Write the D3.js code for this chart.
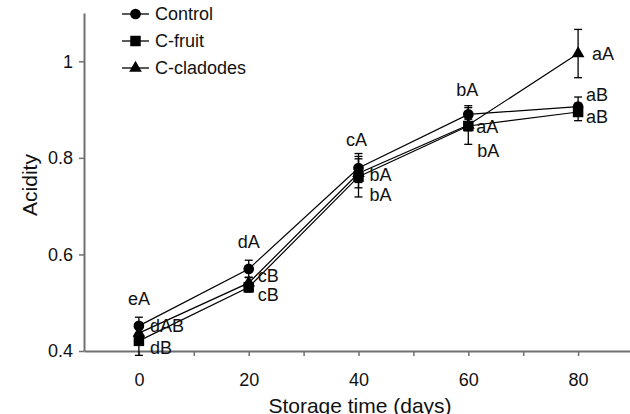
<!DOCTYPE html>
<html>
<head>
<meta charset="utf-8">
<script src="https://cdn.jsdelivr.net/npm/d3@7"></script>
<style>
	body { margin: 0; background: #fff; }
	svg text { font-family: "Liberation Sans", Arial, sans-serif; fill: #111; }
</style>
</head>
<body>
<svg id="chart" width="630" height="414"></svg>
<script>
// storage time (days)
var days = [0, 20, 40, 60, 80];
var xTicks = [0, 20, 40, 60, 80];
var yTicks = [0.4, 0.6, 0.8, 1];

var seriesNames = ['Control', 'C-fruit', 'C-cladodes'];
var controlMean = [0.452, 0.570, 0.779, 0.890, 0.906];
var controlErr = [0.018, 0.018, 0.030, 0.018, 0.020];
var controlLetters = ['eA', 'dA', 'cA', 'bA', 'aB'];
var fruitMean = [0.421, 0.532, 0.761, 0.866, 0.895];
var fruitErr = [0.030, 0.010, 0.042, 0.038, 0.018];
var fruitLetters = ['dB', 'cB', 'bA', 'bA', 'aB'];
var cladodesMean = [0.437, 0.541, 0.768, 0.868, 1.016];
var cladodesErr = [0.020, 0.012, 0.030, 0.012, 0.050];
var cladodesLetters = ['dAB', 'cB', 'bA', 'aA', 'aA'];

// where each letter sits relative to its point (layout only)
var letterPlace = {
	'Control': [[0, -27, 'middle'], [0, -27, 'middle'], [-2, -28, 'middle'], [-1, -25, 'middle'], [8, -12, 'start']],
	'C-fruit': [[11, 7, 'start'], [9, 7, 'start'], [11, 18, 'start'], [9, 25, 'start'], [8, 5, 'start']],
	'C-cladodes': [[11, -7, 'start'], [9, -7, 'start'], [11, 1, 'start'], [8, 2, 'start'], [14, 0, 'start']]
};

var series = [
	{name: 'Control', mean: controlMean, err: controlErr, letters: controlLetters, shape: d3.symbolCircle, size: 90},
	{name: 'C-fruit', mean: fruitMean, err: fruitErr, letters: fruitLetters, shape: d3.symbolSquare, size: 110},
	{name: 'C-cladodes', mean: cladodesMean, err: cladodesErr, letters: cladodesLetters, shape: d3.symbolTriangle, size: 70}
];

var svg = d3.select('svg#chart');

var x = d3.scaleLinear().domain([-10, 90]).range([84, 633]);
var y = d3.scaleLinear().domain([0.4, 1.1]).range([351, 13]);

var axisColor = '#707070';

// x axis
var gx = svg.append('g')
	.attr('transform', 'translate(0,351)')
	.call(d3.axisBottom(x).tickValues(d3.range(0, 100, 10)).tickSize(5).tickSizeOuter(0)
		.tickFormat(function(d) { return xTicks.includes(d) ? d : ''; }));
gx.select('.domain').attr('stroke', axisColor).attr('stroke-width', 2);
gx.selectAll('.tick line').attr('stroke', axisColor).attr('stroke-width', 1.5);
gx.selectAll('.tick text').attr('dy', '1.5em').style('font-size', '18px');

// y axis
var gy = svg.append('g')
	.attr('transform', 'translate(84,0)')
	.call(d3.axisLeft(y).tickValues(yTicks).tickSize(5).tickSizeOuter(0)
		.tickFormat(function(d) { return d === 1 ? '1' : d3.format('.1f')(d); }));
gy.select('.domain').attr('stroke', axisColor).attr('stroke-width', 2);
gy.selectAll('.tick line').attr('stroke', axisColor).attr('stroke-width', 1.5);
gy.selectAll('.tick text').attr('x', -11).style('font-size', '18px');

// axis titles
svg.append('text')
	.attr('x', 360)
	.attr('y', 413)
	.attr('text-anchor', 'middle')
	.style('font-size', '21px')
	.text('Storage time (days)');

svg.append('text')
	.attr('transform', 'translate(37,185) rotate(-90)')
	.attr('text-anchor', 'middle')
	.style('font-size', '21px')
	.text('Acidity');

var line = d3.line()
	.x(function(d, i) { return x(days[i]); })
	.y(function(d) { return y(d); });

var groups = svg.selectAll('.series')
	.data(series)
	.enter().append('g')
	.attr('class', 'series');

// error bars
groups.each(function(s) {
	var g = d3.select(this);
	s.mean.forEach(function(m, i) {
		var cx = x(days[i]);
		g.append('line').attr('x1', cx).attr('x2', cx)
			.attr('y1', y(m - s.err[i])).attr('y2', y(m + s.err[i]))
			.attr('stroke', '#000').attr('stroke-width', 1.3);
		[m - s.err[i], m + s.err[i]].forEach(function(v) {
			g.append('line').attr('x1', cx - 4).attr('x2', cx + 4)
				.attr('y1', y(v)).attr('y2', y(v))
				.attr('stroke', '#000').attr('stroke-width', 1.3);
		});
	});
});

groups.append('path')
	.attr('d', function(s) { return line(s.mean); })
	.attr('fill', 'none')
	.attr('stroke', '#000')
	.attr('stroke-width', 1.2);

groups.each(function(s) {
	var g = d3.select(this);
	g.selectAll('path.pt')
		.data(s.mean)
		.enter().append('path')
		.attr('class', 'pt')
		.attr('d', d3.symbol().type(s.shape).size(s.size))
		.attr('transform', function(d, i) { return 'translate(' + x(days[i]) + ',' + y(d) + ')'; })
		.attr('fill', '#000');
});

// significance letters
groups.each(function(s) {
	var g = d3.select(this);
	s.letters.forEach(function(t, i) {
		var p = letterPlace[s.name][i];
		g.append('text')
			.attr('x', x(days[i]) + p[0])
			.attr('y', y(s.mean[i]) + p[1])
			.attr('dy', '0.35em')
			.attr('text-anchor', p[2])
			.style('font-size', '18px')
			.text(t);
	});
});

// legend
var legend = svg.append('g').attr('transform', 'translate(122,14)');
var items = legend.selectAll('g')
	.data(series)
	.enter().append('g')
	.attr('transform', function(d, i) { return 'translate(0,' + (i * 27) + ')'; });
items.append('line')
	.attr('x1', 0).attr('x2', 27)
	.attr('stroke', '#000').attr('stroke-width', 1.3);
items.append('path')
	.attr('d', function(s) { return d3.symbol().type(s.shape).size(s.size)(); })
	.attr('transform', 'translate(13.5,0)')
	.attr('fill', '#000');
items.append('text')
	.attr('x', 33)
	.attr('dy', '0.35em')
	.style('font-size', '18px')
	.text(function(d) { return d.name; });
</script>
</body>
</html>
